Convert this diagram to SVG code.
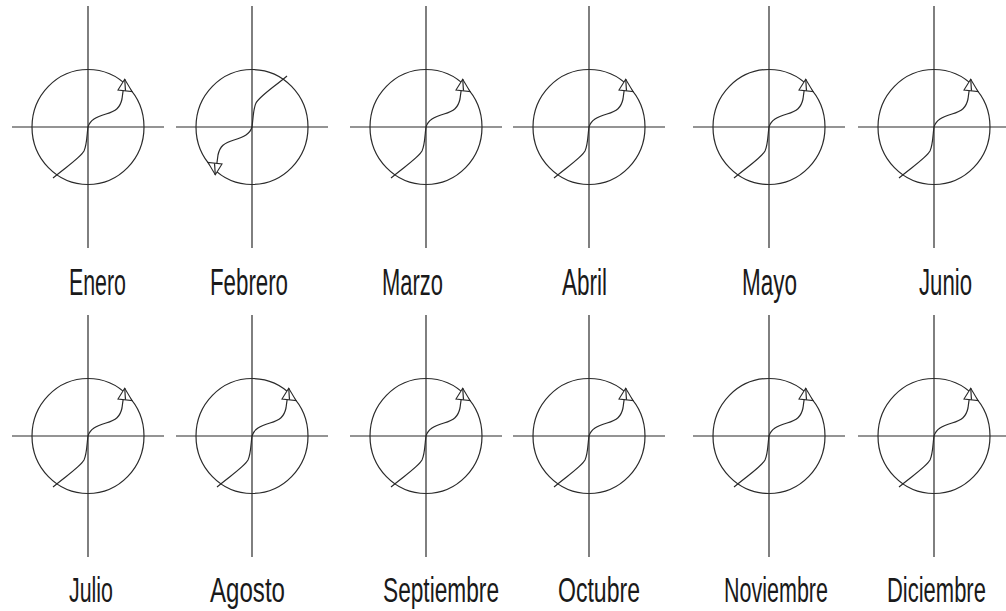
<svg xmlns="http://www.w3.org/2000/svg" xmlns:xlink="http://www.w3.org/1999/xlink" width="1006" height="611" viewBox="0 0 1006 611">
<style>
.ax{stroke:#2a2a2a;stroke-width:1.2;fill:none}
.cir{stroke:#2a2a2a;stroke-width:1.2;fill:none}
.cv{stroke:#2a2a2a;stroke-width:1.2;fill:none}
.ah{stroke:#2a2a2a;stroke-width:1.1;fill:#fff}
.lbl{font-family:"Liberation Sans",Arial,sans-serif;font-size:36px;fill:#1a1a1a}
.lbl2{font-family:"Liberation Sans",Arial,sans-serif;font-size:35px;fill:#1a1a1a}
</style>
<defs>
<g id="dial">
<line class="ax" x1="0" y1="-121" x2="0" y2="121"/>
<line class="ax" x1="-76" y1="0" x2="76" y2="0"/>
<ellipse class="cir" cx="0" cy="0" rx="56" ry="57.5"/>
</g>
<g id="path">
<path class="cv" d="M-35,51 C-22,40 -8,31 -4,24 C-1,18 -1,6 0,0 C2,-7 8,-10 18,-13 C28,-16 32,-19 34,-28 C35,-36 36,-42 36.7,-47.7"/>
<polygon class="ah" points="36.7,-47.7 30,-37 44,-35.5"/>
<line class="cv" x1="36.7" y1="-47.7" x2="37.5" y2="-36.2"/>
</g>
</defs>
<g id="enero"><use xlink:href="#dial" transform="translate(88,127)"/><text class="lbl" x="69" y="295" textLength="57" lengthAdjust="spacingAndGlyphs">Enero</text></g>
<g id="febrero"><use xlink:href="#dial" transform="translate(252,127)"/><text class="lbl" x="210" y="295" textLength="78" lengthAdjust="spacingAndGlyphs">Febrero</text></g>
<g id="marzo"><use xlink:href="#dial" transform="translate(426,127)"/><text class="lbl" x="382" y="295" textLength="61" lengthAdjust="spacingAndGlyphs">Marzo</text></g>
<g id="abril"><use xlink:href="#dial" transform="translate(589,127)"/><text class="lbl" x="562" y="295" textLength="45" lengthAdjust="spacingAndGlyphs">Abril</text></g>
<g id="mayo"><use xlink:href="#dial" transform="translate(769,127)"/><text class="lbl" x="742" y="295" textLength="55" lengthAdjust="spacingAndGlyphs">Mayo</text></g>
<g id="junio"><use xlink:href="#dial" transform="translate(934,127)"/><text class="lbl" x="919" y="295" textLength="53" lengthAdjust="spacingAndGlyphs">Junio</text></g>
<g id="julio"><use xlink:href="#dial" transform="translate(88,436)"/><text class="lbl2" x="69" y="602" textLength="44" lengthAdjust="spacingAndGlyphs">Julio</text></g>
<g id="agosto"><use xlink:href="#dial" transform="translate(252,436)"/><text class="lbl2" x="210" y="602" textLength="75" lengthAdjust="spacingAndGlyphs">Agosto</text></g>
<g id="septiembre"><use xlink:href="#dial" transform="translate(426,436)"/><text class="lbl2" x="383" y="602" textLength="116" lengthAdjust="spacingAndGlyphs">Septiembre</text></g>
<g id="octubre"><use xlink:href="#dial" transform="translate(589,436)"/><text class="lbl2" x="558" y="602" textLength="82" lengthAdjust="spacingAndGlyphs">Octubre</text></g>
<g id="noviembre"><use xlink:href="#dial" transform="translate(769,436)"/><text class="lbl2" x="724" y="602" textLength="104" lengthAdjust="spacingAndGlyphs">Noviembre</text></g>
<g id="diciembre"><use xlink:href="#dial" transform="translate(934,436)"/><text class="lbl2" transform="translate(887,602) scale(0.63,1)" x="0" y="0" textLength="157" lengthAdjust="spacingAndGlyphs">Diciembre</text></g>
<g id="connectors">
<use xlink:href="#path" transform="translate(88,127)"/>
<use xlink:href="#path" transform="translate(252,127) rotate(180)"/>
<use xlink:href="#path" transform="translate(426,127)"/>
<use xlink:href="#path" transform="translate(589,127)"/>
<use xlink:href="#path" transform="translate(769,127)"/>
<use xlink:href="#path" transform="translate(934,127)"/>
<use xlink:href="#path" transform="translate(88,436)"/>
<use xlink:href="#path" transform="translate(252,436)"/>
<use xlink:href="#path" transform="translate(426,436)"/>
<use xlink:href="#path" transform="translate(589,436)"/>
<use xlink:href="#path" transform="translate(769,436)"/>
<use xlink:href="#path" transform="translate(934,436)"/>
</g>
</svg>
